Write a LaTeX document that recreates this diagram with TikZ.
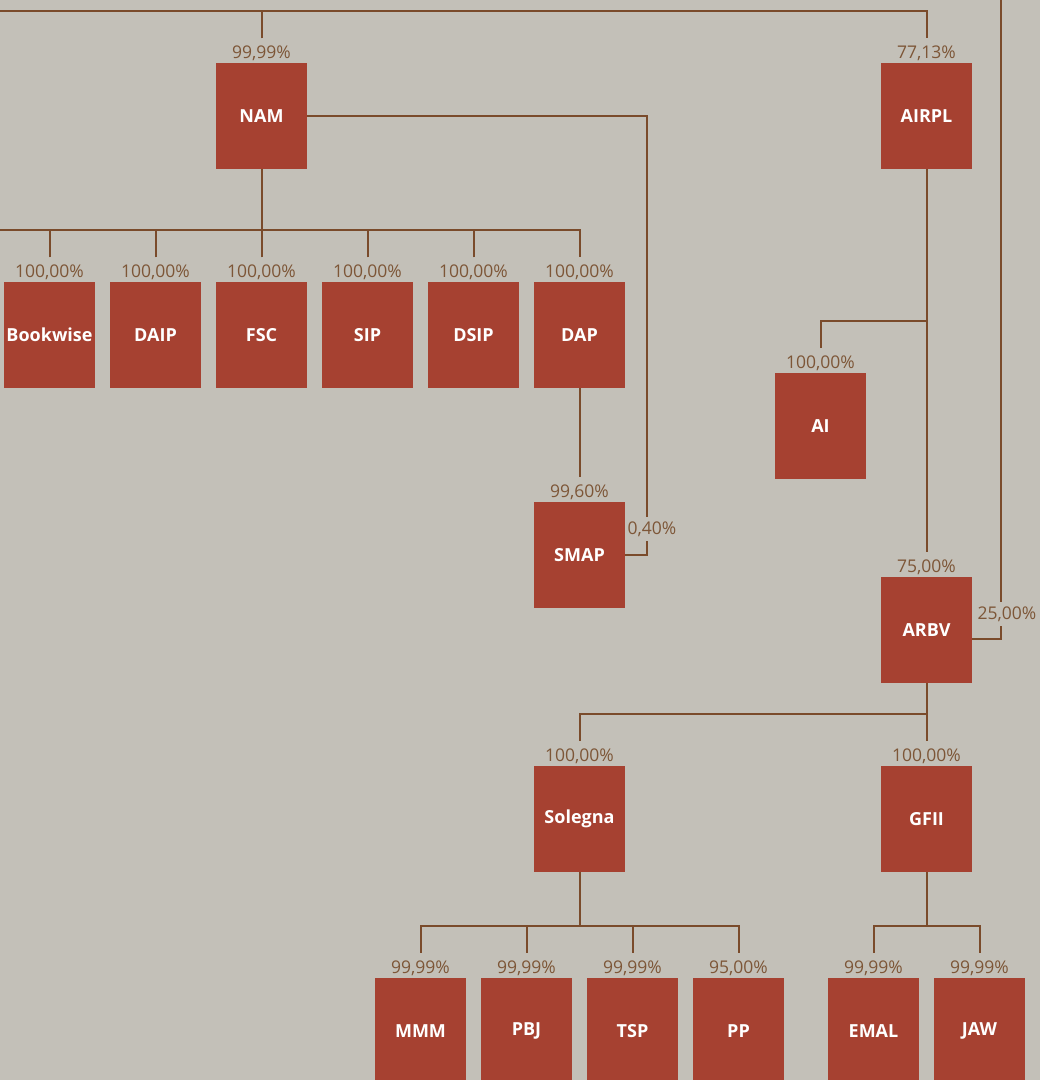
\documentclass[tikz,border=0pt]{standalone}
\usepackage{fontspec}
\setmainfont{Open Sans}
\usetikzlibrary{positioning}
\definecolor{paper}{HTML}{C3C0B8}
\definecolor{brick}{HTML}{A64131}
\definecolor{bark}{HTML}{7A4B2B}
\definecolor{pcttext}{HTML}{7D5637}
\tikzset{
  firm/.style={fill=brick, text=white, minimum width=91pt, minimum height=106pt, inner sep=0pt, font=\fontsize{18}{20}\selectfont\bfseries},
  pct/.style={text=pcttext, inner xsep=0pt, inner ysep=7pt, font=\fontsize{17.5}{19}\selectfont},
  sidepct/.style={pct, fill=paper, inner xsep=1pt, inner ysep=5pt},
  link/.style={draw=bark, line width=2pt},
}
\begin{document}
\begin{tikzpicture}[x=1pt,y=-1pt]
   \fill[paper] (0,0) rectangle (1040,1080);
   \useasboundingbox (0,0) rectangle (1040,1080);

   % holdings
   \node[firm] (nam) at (261.5,116) {NAM};
   \node[pct, above=-5pt of nam] (nam-p) {99,99\%};
   \node[firm] (airpl) at (926.5,116) {AIRPL};
   \node[pct, above=-5pt of airpl] (airpl-p) {77,13\%};

   \foreach \n/\x/\t/\p in {bookwise/49.5/Bookwise/{100,00\%}, daip/155.5/DAIP/{100,00\%},
       fsc/261.5/FSC/{100,00\%}, sip/367.5/SIP/{100,00\%}, dsip/473.5/DSIP/{100,00\%}, dap/579.5/DAP/{100,00\%}}
     {
      \node[firm] (\n) at (\x,335) {\t};
      \node[pct, above=-5pt of \n] (\n-p) {\p};
     }

   \node[firm] (smap) at (579.5,555) {SMAP};
   \node[pct, above=-5pt of smap] (smap-p) {99,60\%};
   \node[firm] (ai) at (820.5,426) {AI};
   \node[pct, above=-5pt of ai] (ai-p) {100,00\%};
   \node[firm] (arbv) at (926.5,630) {ARBV};
   \node[pct, above=-5pt of arbv] (arbv-p) {75,00\%};
   \node[firm] (solegna) at (579.5,819) {Solegna};
   \node[pct, above=-5pt of solegna] (solegna-p) {100,00\%};
   \node[firm] (gfii) at (926.5,819) {GFII};
   \node[pct, above=-5pt of gfii] (gfii-p) {100,00\%};

   \foreach \n/\x/\t/\p in {mmm/420.5/MMM/{99,99\%}, pbj/526.5/PBJ/{99,99\%}, tsp/632.5/TSP/{99,99\%},
       pp/738.5/PP/{95,00\%}, emal/873.5/EMAL/{99,99\%}, jaw/979.5/JAW/{99,99\%}}
     {
      \node[firm] (\n) at (\x,1031) {\t};
      \node[pct, above=-5pt of \n] (\n-p) {\p};
     }

   % ownership lines
   \coordinate (topleft) at (0,11);
   \coordinate (topright) at (1001,0);
   \coordinate (namleft) at (0,230);
   \draw[link] (topleft) -| (airpl-p.north);
   \draw[link] (nam-p.north) -- (nam-p.north |- topleft);
   \draw[link] (topright) |- ([yshift=-9pt]arbv.east);
   \draw[link] (nam.south) -- (nam.south |- namleft);
   \draw[link] (namleft) -| (dap-p.north);
   \foreach \n in {bookwise,daip,fsc,sip,dsip}
      \draw[link] (\n-p.north) -- (\n-p.north |- namleft);
   \draw[link] (nam.east) -| ([xshift=22pt]smap.east) -- (smap.east);
   \draw[link] (dap.south) -- (smap-p.north);
   \draw[link] (airpl.south) -- (arbv-p.north);
   \draw[link] ([yshift=-152pt]airpl.south) -| (ai-p.north);
   \draw[link] (arbv.south) -- ++(0,31) coordinate (arbvbus) -| (solegna-p.north);
   \draw[link] (arbvbus) -- (gfii-p.north);
   \draw[link] (solegna.south) -- ++(0,54) coordinate (solbus);
   \foreach \n in {mmm,pbj,tsp,pp}
      \draw[link] (solbus) -| (\n-p.north);
   \draw[link] (gfii.south) -- ++(0,54) coordinate (gfiibus);
   \foreach \n in {emal,jaw}
      \draw[link] (gfiibus) -| (\n-p.north);

   \node[sidepct] (smap-q) at (652,529) {0,40\%};
   \node[sidepct] (arbv-q) at (1007,614) {25,00\%};
\end{tikzpicture}
\end{document}
